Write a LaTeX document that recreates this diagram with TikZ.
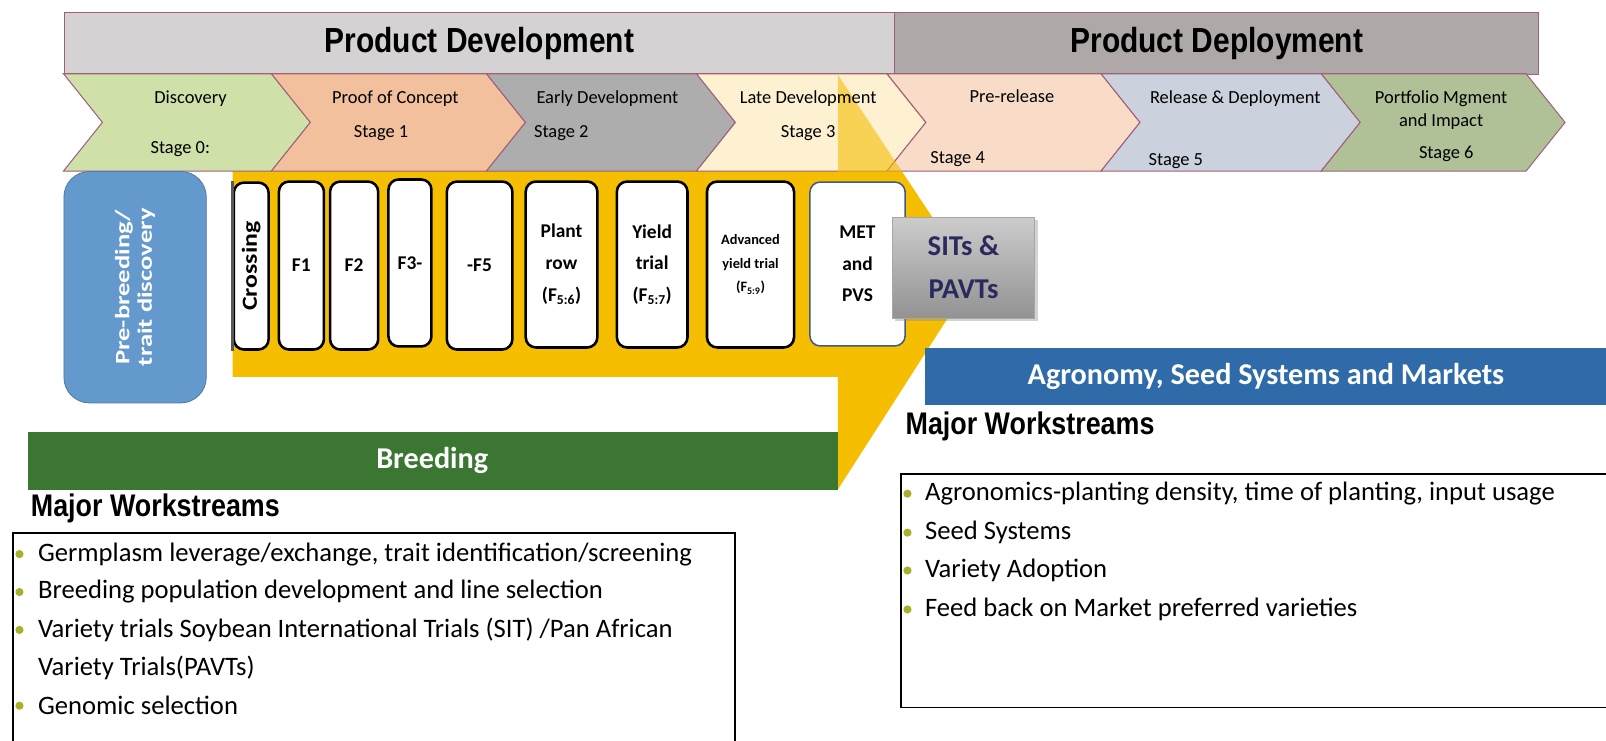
\documentclass[tikz,border=0pt]{standalone}
\usepackage{fontspec}
\setmainfont{Carlito}
\newfontfamily\headfont[FakeStretch=0.86]{Liberation Sans}
\usetikzlibrary{shadows}
\definecolor{pdgray}{HTML}{D5D2D4}
\definecolor{pdepgray}{HTML}{AEA9A8}
\definecolor{barline}{HTML}{A0607A}
\definecolor{cDisc}{HTML}{D0E0A9}
\definecolor{cProof}{HTML}{F2C09C}
\definecolor{cEarly}{HTML}{ADADAD}
\definecolor{cLate}{HTML}{FEF1D2}
\definecolor{cPre}{HTML}{F8DCC8}
\definecolor{cRel}{HTML}{CCD1DE}
\definecolor{cPort}{HTML}{B0C097}
\definecolor{arrowyellow}{HTML}{F5BE00}
\definecolor{prebblue}{HTML}{6499CD}
\definecolor{breedgreen}{HTML}{3B7632}
\definecolor{agroblue}{HTML}{2F6BA8}
\definecolor{bulletgreen}{HTML}{A6B02A}
\definecolor{sitsnavy}{HTML}{2B2A5E}
\definecolor{metline}{HTML}{3C5A8A}
\newcommand\chevshape[3]{%
  \filldraw[fill=#3, draw=barline, line width=1pt] (#1,72) -- (#2,72) -- ({#2+38},119.5) -- (#2,167) -- (#1,167) -- ({#1+38},119.5) -- cycle;}
\newcommand\arrowpath{(227,166) -- (818,166) -- (818,73) -- (950,272) -- (818,478) -- (818,368) -- (227,368) -- cycle}
\begin{document}
\begin{tikzpicture}[x=1pt,y=-1pt,
  hbar/.style={draw=barline, line width=1pt, minimum height=60pt, inner sep=0pt, anchor=north west, font=\headfont\bfseries\fontsize{34}{34}\selectfont},
  chevtext/.style={font=\fontsize{18}{18}\selectfont, inner sep=0pt},
  genbox/.style={draw=black, line width=2.5pt, fill=white, rounded corners=10pt, anchor=north west, inner sep=0pt, align=center, font=\bfseries\fontsize{19}{31}\selectfont},
  listtext/.style={anchor=west, inner sep=0pt, font=\fontsize{26}{26}\selectfont},
  bulletdot/.style={circle, fill=bulletgreen, inner sep=0pt, minimum size=8pt},
  mwhead/.style={anchor=west, inner sep=0pt, font=\headfont\bfseries\fontsize{30.5}{30.5}\selectfont},
  colbar/.style={anchor=north west, inner sep=0pt}]
\useasboundingbox (0,0) rectangle (1568,722.5);
\clip (0,0) rectangle (1568,722.5);

% header bars
\node[hbar, fill=pdgray, minimum width=811pt] (pd) at (62,12) {Product Development};
\node[hbar, fill=pdepgray, minimum width=629pt] (pdep) at (873,12) {Product Deployment};

% yellow arrow
\fill[arrowyellow] \arrowpath;

% chevrons
\chevshape{62}{265}{cDisc}
\chevshape{265}{475}{cProof}
\chevshape{475}{680}{cEarly}
\chevshape{680}{866}{cLate}
\chevshape{866}{1075}{cPre}
\chevshape{1075}{1290}{cRel}
\chevshape{1290}{1490}{cPort}
\begin{scope}
  \clip (818,73) rectangle (1000,167);
  \fill[arrowyellow, fill opacity=0.6] \arrowpath;
\end{scope}

% chevron texts
\node[chevtext] (t0a) at (186,96) {Discovery};
\node[chevtext] (t0b) at (176,146) {Stage 0:};
\node[chevtext] (t1a) at (386,96) {Proof of Concept};
\node[chevtext] (t1b) at (372,130) {Stage 1};
\node[chevtext] (t2a) at (593,96) {Early Development};
\node[chevtext] (t2b) at (548,130) {Stage 2};
\node[chevtext] (t3a) at (789,96) {Late Development};
\node[chevtext] (t3b) at (789,130) {Stage 3};
\node[chevtext] (t4a) at (988,94) {Pre-release};
\node[chevtext] (t4b) at (935,155) {Stage 4};
\node[chevtext] (t5a) at (1206,96) {Release \& Deployment};
\node[chevtext] (t5b) at (1148,157) {Stage 5};
\node[chevtext] (t6a) at (1407,96) {Portfolio Mgment};
\node[chevtext] (t6b) at (1407,119) {and Impact};
\node[chevtext] (t6c) at (1412,150) {Stage 6};

% pre-breeding
\node[draw=prebblue!80!black, line width=0.8pt, fill=prebblue, rounded corners=25pt, anchor=north west, minimum width=139pt, minimum height=226pt, inner sep=0pt] (preb) at (62,167) {};
\node[rotate=90, text=white, align=center, font=\bfseries\fontsize{20}{22}\selectfont, inner sep=0pt] (prebt) at (preb.center) {\scalebox{1.3}[1]{Pre-breeding/}\\\scalebox{1.3}[1]{trait discovery}};

% generation boxes
\node[genbox, minimum width=34pt, minimum height=163pt] (cross) at (227,177) {};
\draw[line width=3pt, black!65] (cross.north west) -- (cross.south west);
\node[rotate=90, inner sep=0pt, font=\bfseries\fontsize{21}{21}\selectfont] (crosst) at (cross.center) {\scalebox{1.2}[1]{Crossing}};
\node[genbox, minimum width=44pt, minimum height=164pt] (f1) at (271,176) {F1};
\node[genbox, minimum width=47pt, minimum height=164pt] (f2) at (321,176) {F2};
\node[genbox, minimum width=42pt, minimum height=163pt] (f3) at (378,174) {F3-};
\node[genbox, minimum width=64pt, minimum height=164pt] (f5) at (435,176) {-F5};
\node[genbox, minimum width=70pt, minimum height=162pt] (plant) at (512,176) {Plant\\row\\(F\textsubscript{5:6})};
\node[genbox, minimum width=69pt, minimum height=162pt] (yield) at (601,176) {Yield\\trial\\(F\textsubscript{5:7})};
\node[genbox, minimum width=85pt, minimum height=162pt, font=\bfseries\fontsize{14}{23}\selectfont] (adv) at (689,176) {Advanced\\yield trial\\(F\textsubscript{5:9})};
\node[genbox, draw=metline, line width=1.5pt, minimum width=93pt, minimum height=160pt] (met) at (790,177) {MET\\and\\PVS};

% SITs & PAVTs
\node[anchor=north west, minimum width=139pt, minimum height=98pt, inner sep=0pt, top color=gray!40, bottom color=gray!85, draw=gray!70, drop shadow={opacity=0.35, shadow xshift=3pt, shadow yshift=-3pt}, align=center, text=sitsnavy, font=\bfseries\fontsize{28}{42}\selectfont] (sits) at (871,212) {SITs \&\\PAVTs};

% coloured bars
\node[colbar, fill=agroblue, minimum width=680pt, minimum height=55pt] (agro) at (903,340) {};
\node[text=white, inner sep=0pt, font=\bfseries\fontsize{29.5}{29.5}\selectfont] (agrot) at (1236,368) {Agronomy, Seed Systems and Markets};
\node[colbar, fill=breedgreen, minimum width=791pt, minimum height=56pt] (breed) at (27,422) {};
\node[text=white, inner sep=0pt, font=\bfseries\fontsize{29.5}{29.5}\selectfont] (breedt) at (422,450) {Breeding};

% Major workstreams headings
\node[mwhead] (mwr) at (884,416) {Major Workstreams};
\node[mwhead] (mwl) at (30,496) {Major Workstreams};

% list boxes
\node[draw=black, line width=1.5pt, anchor=north west, minimum width=760pt, minimum height=228pt, inner sep=0pt] (rbox) at (879,462) {};
\node[draw=black, line width=2pt, anchor=north west, minimum width=705pt, minimum height=260pt, inner sep=0pt] (lbox) at (12,519) {};

% right list
\node[bulletdot] (rb1) at (886,482) {};
\node[listtext] (ri1) at (903,482) {Agronomics-planting density, time of planting, input usage};
\node[bulletdot] (rb2) at (886,520) {};
\node[listtext] (ri2) at (903,520) {Seed Systems};
\node[bulletdot] (rb3) at (886,557) {};
\node[listtext] (ri3) at (903,557) {Variety Adoption};
\node[bulletdot] (rb4) at (886,595) {};
\node[listtext] (ri4) at (903,595) {Feed back on Market preferred varieties};

% left list
\node[bulletdot] (lb1) at (19,541) {};
\node[listtext] (li1) at (37,541) {Germplasm leverage/exchange, trait identification/screening};
\node[bulletdot] (lb2) at (19,578) {};
\node[listtext] (li2) at (37,578) {Breeding population development and line selection};
\node[bulletdot] (lb3) at (19,615) {};
\node[listtext] (li3) at (37,615) {Variety trials Soybean International Trials (SIT) /Pan African};
\node[listtext] (li3b) at (37,652) {Variety Trials(PAVTs)};
\node[bulletdot] (lb4) at (19,689) {};
\node[listtext] (li4) at (37,689) {Genomic selection};
\end{tikzpicture}
\end{document}
